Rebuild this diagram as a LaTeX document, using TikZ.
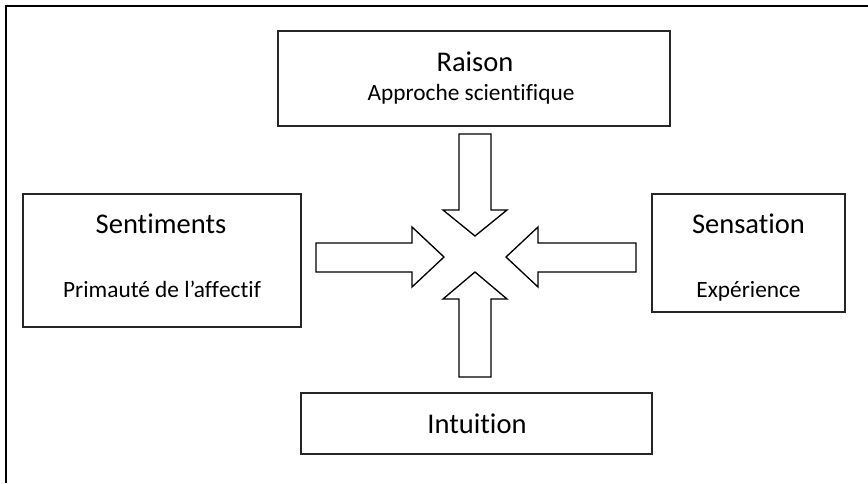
\documentclass[tikz,border=0pt]{standalone}
\usepackage{fontspec}
\setmainfont[RawFeature={-liga;-clig;-dlig;-calt;-rlig;-hlig}]{Carlito}
\newcommand{\nl}{\kern0pt }
\begin{document}
\begin{tikzpicture}[x=0.75pt,y=-0.75pt,
  box/.style={draw=black!85,line width=0.8pt,fill=none,inner sep=0pt,rectangle},
  big/.style={font=\fontsize{21.4}{24}\selectfont,anchor=base,inner sep=0pt},
  small/.style={font=\fontsize{17.5}{20}\selectfont,anchor=base,inner sep=0pt},
  blockarrow/.style={draw=black,line width=1pt,fill=white,line join=miter}]
\useasboundingbox (0,0) rectangle (868,483);
% frame (top and left edges)
\draw[line width=1.6pt] (6,483) -- (6,6) -- (868,6);
% boxes
\node[box,minimum width=392*0.75pt,minimum height=95*0.75pt] (raison) at (474,78.5) {};
\node[box,minimum width=278*0.75pt,minimum height=133*0.75pt] (sentiments) at (162,260.5) {};
\node[box,minimum width=193*0.75pt,minimum height=118*0.75pt] (sensation) at (748.5,253) {};
\node[box,minimum width=351*0.75pt,minimum height=61*0.75pt] (intuition) at (476.5,423.5) {};
% texts
\node[big] (t1) at (475,71) {Raison};
\node[small] (s1) at (471,100) {Approche scient\nl if\nl ique};
\node[big] (t2) at (161,233) {Sent\nl iments};
\node[small] (s2) at (162,297) {Primauté de l’af\nl f\nl ect\nl if};
\node[big] (t3) at (748.5,233) {Sensat\nl ion};
\node[small] (s3) at (748.5,297) {Expérience};
\node[big] (t4) at (477,433) {Intuit\nl ion};
% block arrows
\draw[blockarrow] (459,134) -- (491,134) -- (491,210) -- (507,210) -- (475,236) -- (443,210) -- (459,210) -- cycle;
\draw[blockarrow] (459,377) -- (491,377) -- (491,299) -- (507,299) -- (475,272) -- (443,299) -- (459,299) -- cycle;
\draw[blockarrow] (316,243) -- (412,243) -- (412,227) -- (444,257) -- (412,287) -- (412,272) -- (316,272) -- cycle;
\draw[blockarrow] (636,243) -- (538,243) -- (538,227) -- (506,257) -- (538,287) -- (538,272) -- (636,272) -- cycle;
\end{tikzpicture}
\end{document}
